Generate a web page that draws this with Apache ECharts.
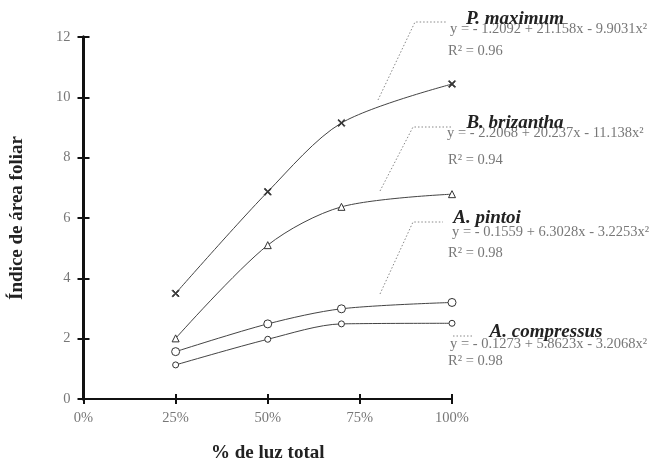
<!DOCTYPE html>
<html>
<head>
<meta charset="utf-8">
<script src="https://cdn.jsdelivr.net/npm/echarts@6/dist/echarts.min.js"></script>
<style>html,body{margin:0;padding:0;background:#fff}#c{width:659px;height:464px}</style>
</head>
<body>
<div id="c"></div>
<script>
const lightLevels = [25, 50, 70, 100];
const pMaximum = [3.50, 6.87, 9.15, 10.44];
const bBrizantha = [2.01, 5.10, 6.37, 6.79];
const aPintoi = [1.57, 2.49, 2.99, 3.20];
const aCompressus = [1.13, 1.98, 2.49, 2.51];
const xTicks = [0, 25, 50, 75, 100];
const yTicks = [0, 2, 4, 6, 8, 10, 12];
const speciesNames = ['P. maximum', 'B. brizantha', 'A. pintoi', 'A. compressus'];
const equations = [
  'y = - 1.2092 + 21.158x - 9.9031x²',
  'y = - 2.2068 + 20.237x - 11.138x²',
  'y = - 0.1559 + 6.3028x - 3.2253x²',
  'y = - 0.1273 + 5.8623x - 3.2068x²'
];
const r2 = ['R² = 0.96', 'R² = 0.94', 'R² = 0.98', 'R² = 0.98'];

const serif = '"Liberation Serif", "DejaVu Serif", serif';
const chart = echarts.init(document.getElementById('c'));
const pair = a => lightLevels.map((x, i) => [x, a[i]]);
const crossPath = 'path://M0,1L1,0L5,4L9,0L10,1L6,5L10,9L9,10L5,6L1,10L0,9L4,5Z';

function ser(name, data, symbol, size) {
  return {
    name, type: 'line', smooth: 0.3, data: pair(data),
    symbol, symbolSize: size, showSymbol: true,
    lineStyle: { color: '#444', width: 1 },
    itemStyle: { color: symbol === crossPath ? '#333' : '#fff', borderColor: '#333', borderWidth: 1 },
    z: 3
  };
}

const baseX = {
  type: 'value', min: 0, max: 100, interval: 25,
  axisLine: { show: true, lineStyle: { color: '#111', width: 2 } },
  splitLine: { show: false }
};
const baseY = {
  type: 'value', min: 0, max: 12, interval: 2,
  axisLine: { show: true, lineStyle: { color: '#111', width: 3 } },
  splitLine: { show: false }
};

const annotations = [];
const lblY = [19, 123, 218, 332];
const lblX = [515, 515, 487, 546];
const eqY = [29, 133, 232, 344];
const rY = [51, 160, 253, 361];
const eqX = [450, 447, 452, 450];
for (let i = 0; i < 4; i++) {
  annotations.push({ type: 'text', x: eqX[i], y: eqY[i], style: { text: equations[i], font: '14.5px ' + serif, fill: '#777', textVerticalAlign: 'middle' }, z: 10 });
  annotations.push({ type: 'text', x: 448, y: rY[i], style: { text: r2[i], font: '14.5px ' + serif, fill: '#777', textVerticalAlign: 'middle' }, z: 10 });
  annotations.push({ type: 'text', x: lblX[i], y: lblY[i], style: { text: speciesNames[i], font: 'italic bold 19px ' + serif, fill: '#222', textAlign: 'center', textVerticalAlign: 'middle' }, z: 11 });
}
const leaders = [
  [[378, 100], [415, 22], [447, 22]],
  [[380, 191], [413, 127], [452, 127]],
  [[380, 294], [413, 222], [443, 222]],
  [[453, 336], [472, 336]]
];
leaders.forEach(p => annotations.push({ type: 'polyline', shape: { points: p }, style: { stroke: '#888', lineWidth: 1, lineDash: [1.5, 2], fill: null }, z: 5 }));

chart.setOption({
  animation: false,
  backgroundColor: '#fff',
  grid: { left: 83.5, right: 207, top: 37, bottom: 65, containLabel: false, outerBoundsMode: 'none' },
  xAxis: [
    Object.assign({}, baseX, {
      axisTick: { show: true, length: 5, lineStyle: { color: '#111', width: 2 } },
      axisLabel: { formatter: v => xTicks.includes(v) ? v + '%' : '', fontFamily: serif, fontSize: 14.5, color: '#777', margin: 12 },
      name: '% de luz total', nameLocation: 'middle', nameGap: 45,
      nameTextStyle: { fontFamily: serif, fontWeight: 'bold', fontSize: 19, color: '#222' }
    }),
    Object.assign({}, baseX, {
      position: 'bottom',
      axisTick: { show: true, inside: true, length: 5, lineStyle: { color: '#111', width: 2 } },
      axisLabel: { show: false }
    })
  ],
  yAxis: [
    Object.assign({}, baseY, {
      axisTick: { show: true, length: 6, lineStyle: { color: '#111', width: 2 } },
      axisLabel: { formatter: v => yTicks.includes(v) ? String(v) : '', fontFamily: serif, fontSize: 14.5, color: '#777', margin: 13 },
      name: 'Índice de área foliar', nameLocation: 'middle', nameGap: 57,
      nameTextStyle: { fontFamily: serif, fontWeight: 'bold', fontSize: 19, color: '#222' }
    }),
    Object.assign({}, baseY, {
      position: 'left',
      axisTick: { show: true, inside: true, length: 6, lineStyle: { color: '#111', width: 2 } },
      axisLabel: { show: false }
    })
  ],
  series: [
    ser(speciesNames[0], pMaximum, crossPath, 7),
    ser(speciesNames[1], bBrizantha, 'triangle', 7),
    ser(speciesNames[2], aPintoi, 'circle', 8),
    ser(speciesNames[3], aCompressus, 'circle', 6)
  ],
  graphic: annotations
});
</script>
</body>
</html>
